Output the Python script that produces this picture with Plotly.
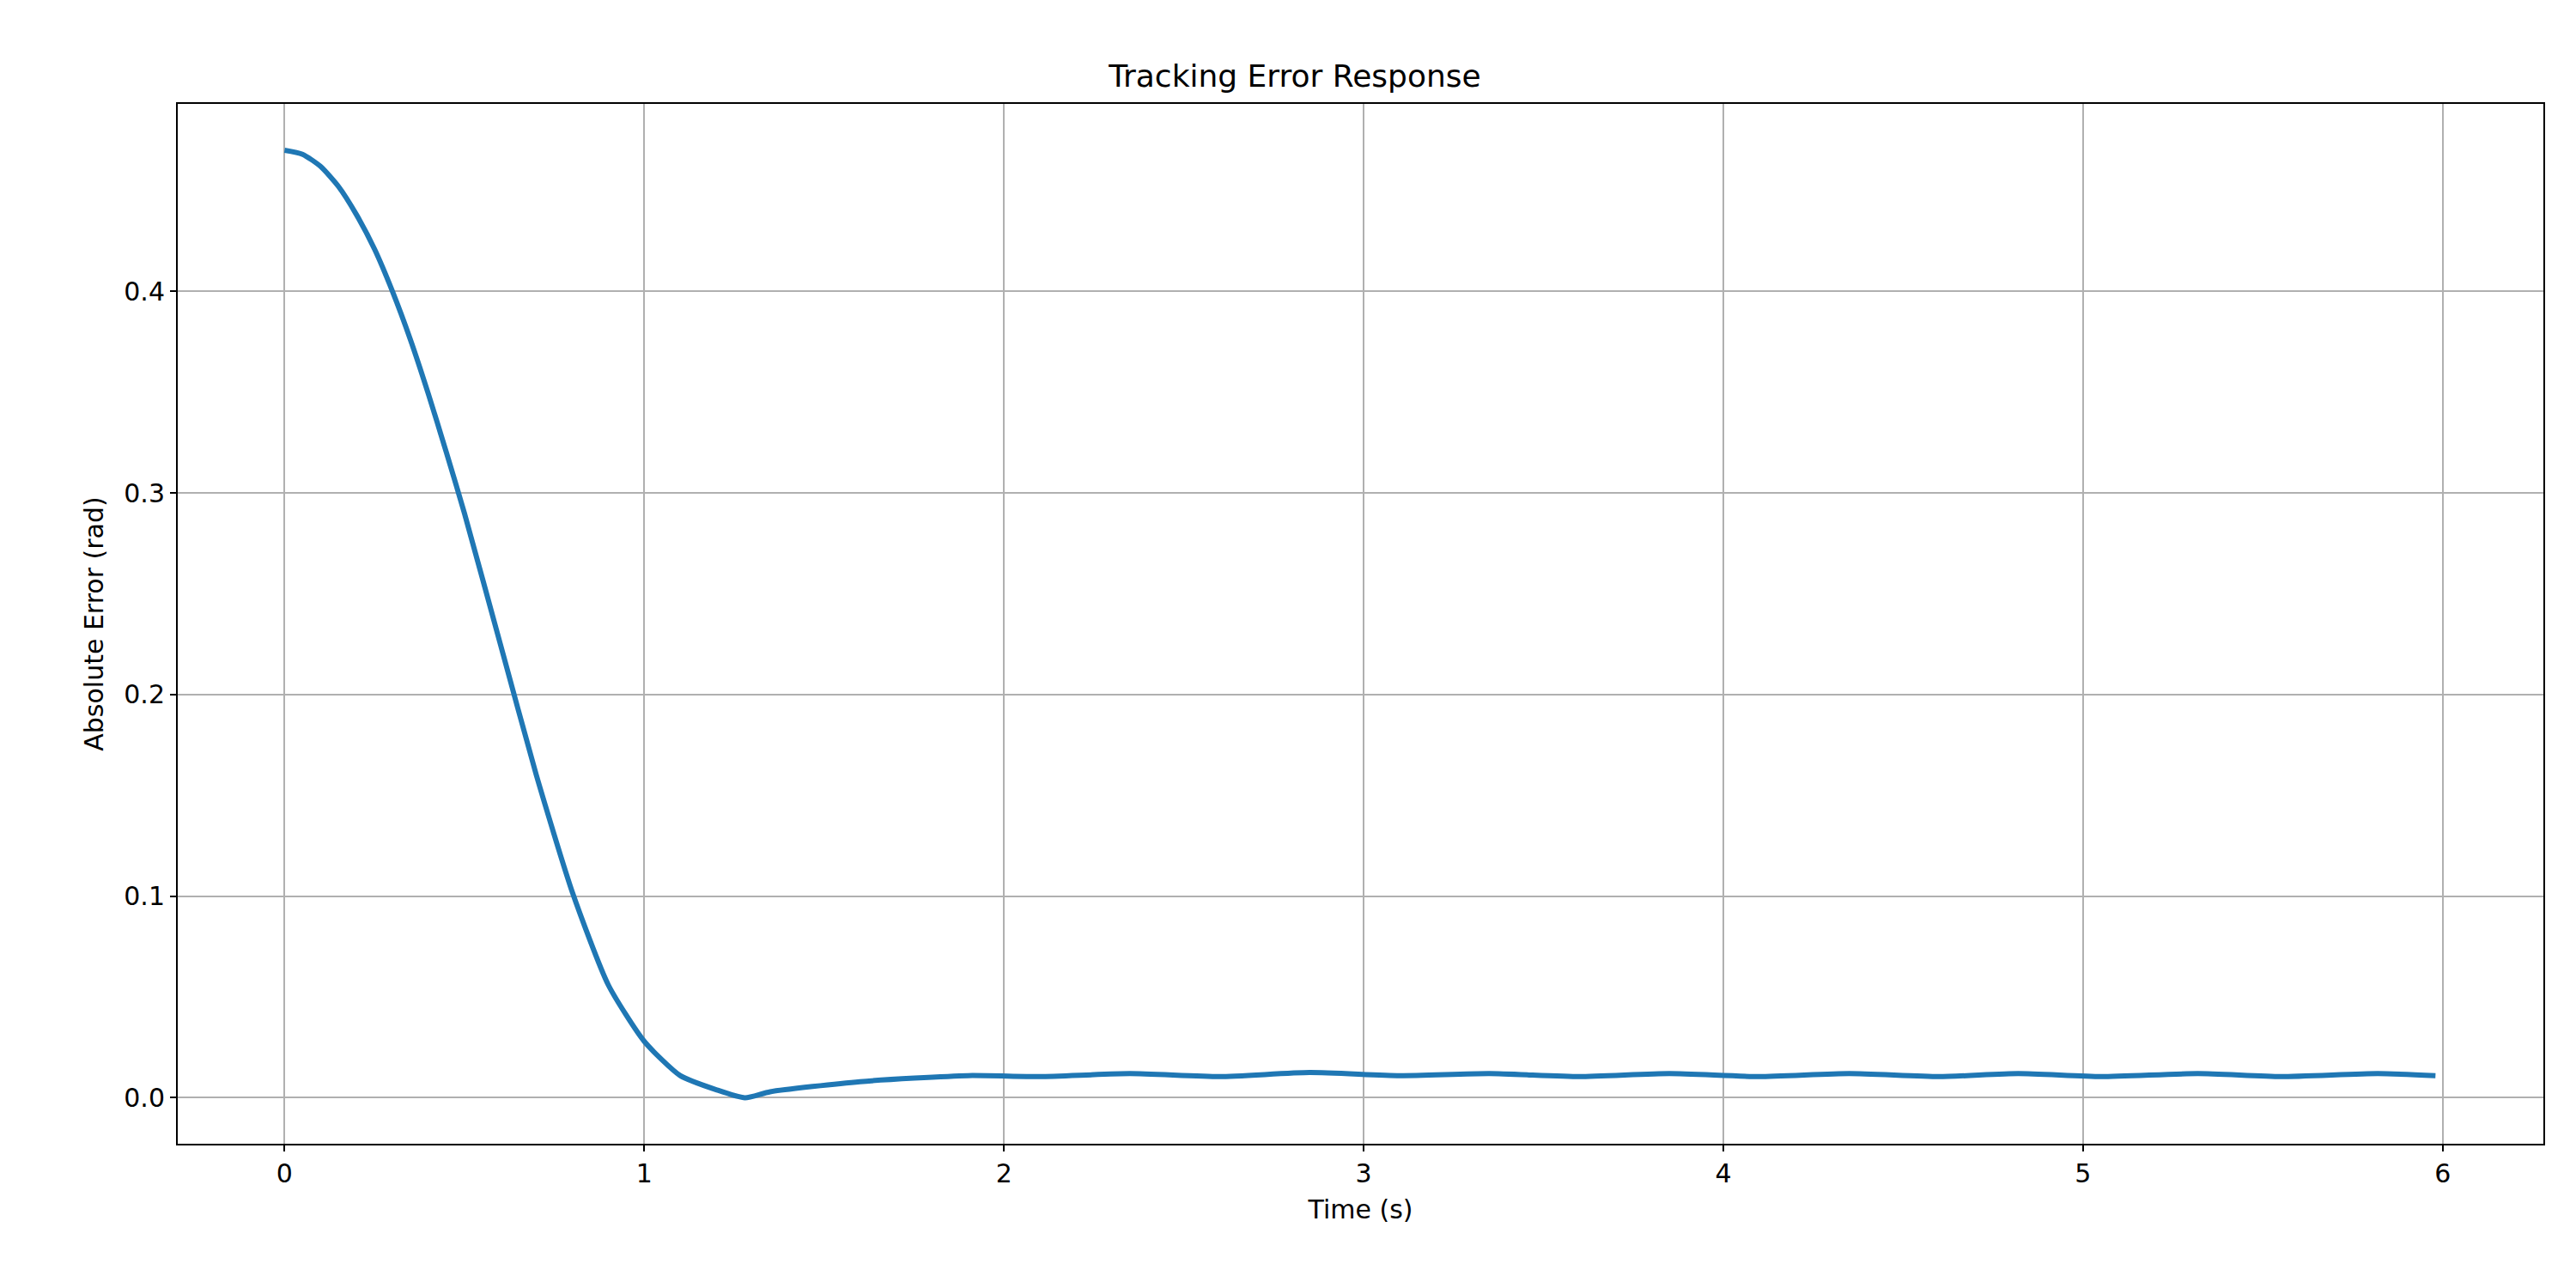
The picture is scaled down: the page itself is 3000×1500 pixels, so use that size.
import plotly.graph_objects as go

time_s = [0, 0.05, 0.1, 0.15, 0.2, 0.25, 0.3, 0.35, 0.4, 0.45, 0.5, 0.6, 0.7, 0.8, 0.9, 1.0, 1.1, 1.2, 1.28,
          1.35, 1.6, 1.9, 2.1, 2.35, 2.6, 2.85, 3.1, 3.35, 3.6, 3.85, 4.1, 4.35, 4.6, 4.82, 5.05, 5.32, 5.55, 5.82, 5.98]
abs_error = [0.470, 0.468, 0.462, 0.452, 0.438, 0.421, 0.400, 0.376, 0.349, 0.320, 0.290, 0.225, 0.160, 0.102, 0.056, 0.028, 0.011, 0.004, 0.0,
             0.003, 0.008, 0.011, 0.0105, 0.012, 0.0105, 0.0125, 0.011, 0.012, 0.0105, 0.012, 0.0105, 0.012, 0.0105, 0.012, 0.0105, 0.012, 0.0105, 0.012, 0.011]

fig = go.Figure(go.Scatter(x=time_s, y=abs_error, mode="lines",
                           line=dict(color="#1f77b4", width=6, shape="spline", smoothing=0.6)))
font = "DejaVu Sans"
axcommon = dict(showgrid=True, gridcolor="#b0b0b0", gridwidth=2, zeroline=False,
                showline=True, linecolor="black", linewidth=2, mirror=True,
                ticks="outside", ticklen=7, tickwidth=2, tickcolor="black",
                tickfont=dict(family=font, size=30, color="black"))
fig.update_xaxes(range=[-0.297, 6.28], tickvals=[0, 1, 2, 3, 4, 5, 6],
                 title=dict(text="Time (s)", font=dict(family=font, size=30, color="black")), **axcommon)
fig.update_yaxes(range=[-0.0228, 0.493], tickvals=[0, 0.1, 0.2, 0.3, 0.4], tickformat=".1f",
                 title=dict(text="Absolute Error (rad)", font=dict(family=font, size=30, color="black")), **axcommon)
fig.update_layout(width=3000, height=1500, paper_bgcolor="white", plot_bgcolor="white",
                  margin=dict(l=199, r=46, t=113, b=176), showlegend=False,
                  title=dict(text="Tracking Error Response", x=0.5, xanchor="center", y=0.955,
                             font=dict(family=font, size=36, color="black")))
fig.write_html("out.html")
